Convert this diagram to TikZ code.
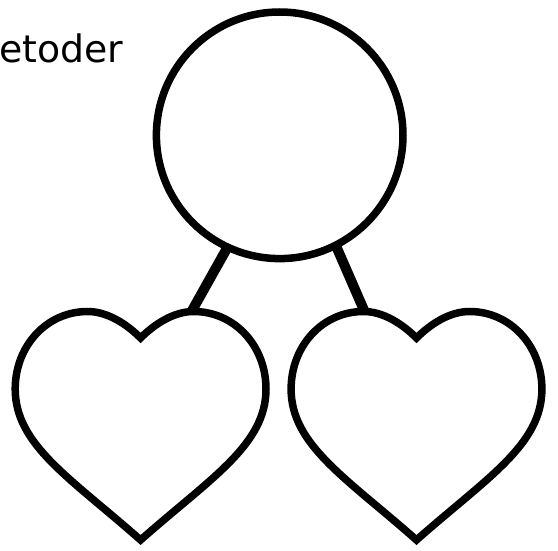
\documentclass[tikz,border=0pt]{standalone}
\usepackage{fontspec}
\newfontfamily\labelfont{DejaVu Sans}
\begin{document}
\begin{tikzpicture}[x=1pt,y=-1pt,
  outline/.style={draw=black,line width=7.5pt,fill=white},
  link/.style={draw=black,line width=10pt},
  heartpic/.pic={
    \path[outline]
      (0,338) .. controls (14,324) and (33.2,311.5) .. (53,311.5)
      .. controls (94,311.5) and (125.4,346) .. (125.4,389)
      .. controls (125.4,445) and (70,478) .. (0,540)
      .. controls (-70,478) and (-125.4,445) .. (-125.4,389)
      .. controls (-125.4,346) and (-94,311.5) .. (-53,311.5)
      .. controls (-33.2,311.5) and (-14,324) .. cycle;
  }]
\useasboundingbox (0,0) rectangle (558,551);
% connectors (behind shapes)
\coordinate (lt) at (237.2,230);
\coordinate (lb) at (187.9,318);
\coordinate (rt) at (329.1,230);
\coordinate (rb) at (367.4,318);
\draw[link] (lt) -- (lb);
\draw[link] (rt) -- (rb);
% central circle
\node[outline,circle,minimum size=246.6pt,inner sep=0pt] (c) at (279.7,135.3) {};
% hearts
\pic (hl) at (140.6,0) {heartpic};
\pic (hr) at (416.5,0) {heartpic};
% title
\node[anchor=base west,inner sep=0pt,font=\labelfont\fontsize{37.8}{40}\selectfont] (t) at (-1,62.3) {etoder};
\end{tikzpicture}
\end{document}
